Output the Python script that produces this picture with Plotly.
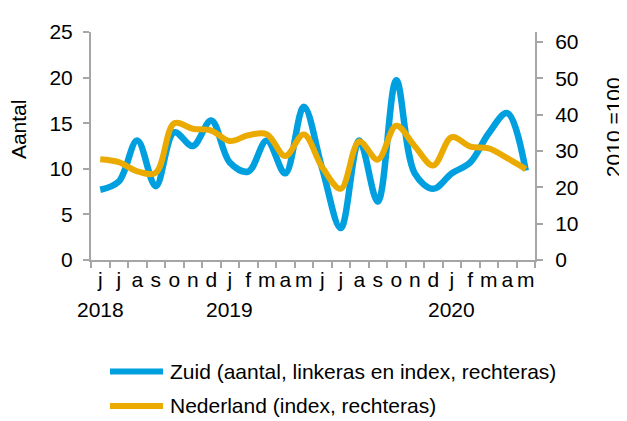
import plotly.graph_objects as go

months = ["2018-06", "2018-07", "2018-08", "2018-09", "2018-10", "2018-11", "2018-12",
          "2019-01", "2019-02", "2019-03", "2019-04", "2019-05", "2019-06", "2019-07",
          "2019-08", "2019-09", "2019-10", "2019-11", "2019-12", "2020-01", "2020-02",
          "2020-03", "2020-04", "2020-05"]
month_labels = ["j", "j", "a", "s", "o", "n", "d", "j", "f", "m", "a", "m",
                "j", "j", "a", "s", "o", "n", "d", "j", "f", "m", "a", "m"]
year_labels = {"2018-06": "2018", "2019-01": "2019", "2020-01": "2020"}

zuid = [7.7, 8.6, 13.1, 8.1, 14.0, 12.5, 15.3, 10.7, 9.7, 13.1, 9.5, 16.8,
        10.0, 3.5, 13.1, 6.4, 19.7, 9.5, 7.8, 9.5, 10.7, 13.9, 16.1, 9.8]
nederland = [27.7, 26.9, 24.4, 24.0, 37.6, 36.1, 35.6, 32.7, 34.3, 34.6, 28.6, 34.5,
             25.5, 19.6, 32.6, 27.6, 36.9, 31.3, 26.0, 33.8, 31.2, 30.7, 28.0, 25.0]

name_zuid = "Zuid (aantal, linkeras en index, rechteras)"
name_ned = "Nederland (index, rechteras)"

BLUE = "#009FDF"
ORANGE = "#EBAA00"
GRAY = "#A6A6A6"
FONT = "Liberation Sans, Arial, sans-serif"
FS = 21

fig = go.Figure()
fig.add_trace(go.Scatter(x=months, y=nederland, name=name_ned, mode="lines",
                         line=dict(color=ORANGE, width=6, shape="spline", smoothing=1),
                         yaxis="y2", showlegend=False))
fig.add_trace(go.Scatter(x=months, y=zuid, name=name_zuid, mode="lines",
                         line=dict(color=BLUE, width=6.5, shape="spline", smoothing=1),
                         yaxis="y", showlegend=False))

# page has an 8px body margin: work in screen pixels, shift by OFF
OFF = 8
W, H = 627 - OFF, 421 - OFF
PL, PR, PT, PB = 91, 535, 24, 260  # plot area in screen pixels
L, R, T, B = PL - OFF, W - (PR - OFF), PT - OFF, H - (PB - OFF)
pw, ph = PR - PL, PB - PT

def px(x):
    return (x - PL) / pw

def py(y):
    return (PB - y) / ph

fig.update_layout(
    width=W, height=H,
    margin=dict(l=L, r=R, t=T, b=B, pad=0),
    paper_bgcolor="white", plot_bgcolor="white",
    font=dict(family=FONT, size=FS, color="#000000"),
    xaxis=dict(type="category", categoryorder="array", categoryarray=months,
               tickvals=months, ticktext=month_labels, tickson="boundaries",
               ticks="outside", ticklen=6, tickwidth=2, tickcolor=GRAY,
               showline=True, linecolor=GRAY, linewidth=2, showgrid=False,
               range=[-0.5, len(months) - 0.5], tickangle=0),
    yaxis=dict(range=[0, 25], tickvals=[0, 5, 10, 15, 20, 25], ticks="outside",
               ticklen=6, tickwidth=2, tickcolor=GRAY, showline=True, linecolor=GRAY,
               linewidth=2, showgrid=False, zeroline=False, ticklabelstandoff=6),
    yaxis2=dict(range=[0, 62.7], tickvals=[0, 10, 20, 30, 40, 50, 60], ticks="outside",
                ticklen=6, tickwidth=2, tickcolor=GRAY, showline=True, linecolor=GRAY,
                linewidth=2, showgrid=False, zeroline=False, overlaying="y",
                side="right", ticklabelstandoff=8),
)

annotations = [
    dict(text="Aantal", xref="paper", x=px(18.5), y=py(125), textangle=-90),
    dict(text="2010 =100", xref="paper", x=px(613.5), y=py(123), textangle=-90),
    dict(text=name_zuid, xref="paper", x=px(168), y=py(375.5), xanchor="left"),
    dict(text=name_ned, xref="paper", x=px(168), y=py(411), xanchor="left"),
]
for m, yr in year_labels.items():
    annotations.append(dict(text=yr, xref="x", x=m, y=py(311)))
for a in annotations:
    a.update(yref="paper", showarrow=False,
             font=dict(family=FONT, size=FS, color="#000000"))
    a.setdefault("xanchor", "center")
    a.setdefault("yanchor", "middle")
fig.update_layout(annotations=annotations)

fig.add_shape(type="line", xref="paper", yref="paper", x0=px(110), x1=px(163),
              y0=py(375.5), y1=py(375.5), line=dict(color=BLUE, width=6))
fig.add_shape(type="line", xref="paper", yref="paper", x0=px(110), x1=px(163),
              y0=py(411), y1=py(411), line=dict(color=ORANGE, width=6))

fig.write_html("out.html")
